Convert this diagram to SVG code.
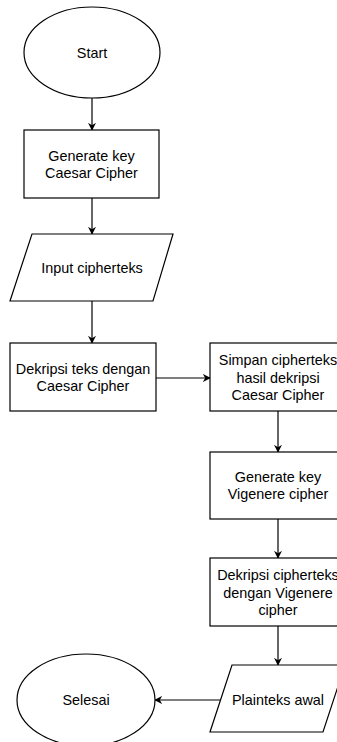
<svg xmlns="http://www.w3.org/2000/svg" width="337" height="742" viewBox="0 0 337 742">
<style>
.s{fill:#fff;stroke:#000;stroke-width:1.2}
.t{font-family:"Liberation Sans",Arial,sans-serif;font-size:14.4px;fill:#000;text-anchor:middle}
.c{fill:none;stroke:#000;stroke-width:1.2}
</style>
<defs>
<marker id="a" viewBox="0 0 10 10" refX="9" refY="5" markerWidth="8" markerHeight="8" markerUnits="userSpaceOnUse" orient="auto">
<path d="M0,0 L10,5 L0,10 L3,5 Z" fill="#000"/>
</marker>
</defs>
<rect width="337" height="742" fill="#fff"/>
<g id="connectors">
<path class="c" d="M92,98 V130" marker-end="url(#a)"/>
<path class="c" d="M92,198 V234" marker-end="url(#a)"/>
<path class="c" d="M92,301 V343" marker-end="url(#a)"/>
<path class="c" d="M156,378 H210" marker-end="url(#a)"/>
<path class="c" d="M278,411 V452" marker-end="url(#a)"/>
<path class="c" d="M278,519 V558" marker-end="url(#a)"/>
<path class="c" d="M278,626 V665" marker-end="url(#a)"/>
<path class="c" d="M221,700 H155" marker-end="url(#a)"/>
</g>
<g id="start">
<ellipse class="s" cx="92" cy="52.5" rx="68" ry="45.5"/>
<text class="t" x="92" y="57.5">Start</text>
</g>
<g id="genkey1">
<rect class="s" x="24" y="130" width="135" height="68"/>
<text class="t" x="91.5" y="160.5">Generate key</text>
<text class="t" x="91.5" y="178">Caesar Cipher</text>
</g>
<g id="input">
<polygon class="s" points="32,234 173,234 153,301 10,301"/>
<text class="t" x="92" y="272.5">Input cipherteks</text>
</g>
<g id="dekripsi1">
<rect class="s" x="10" y="343" width="146" height="68"/>
<text class="t" x="83" y="373.5">Dekripsi teks dengan</text>
<text class="t" x="83" y="391">Caesar Cipher</text>
</g>
<g id="simpan">
<rect class="s" x="210" y="343" width="136" height="68"/>
<text class="t" x="278" y="365">Simpan cipherteks</text>
<text class="t" x="278" y="382.5">hasil dekripsi</text>
<text class="t" x="278" y="400">Caesar Cipher</text>
</g>
<g id="genkey2">
<rect class="s" x="210" y="452" width="136" height="67"/>
<text class="t" x="278" y="481.5">Generate key</text>
<text class="t" x="278" y="499">Vigenere cipher</text>
</g>
<g id="dekripsi2">
<rect class="s" x="210" y="558" width="136" height="68"/>
<text class="t" x="278" y="580">Dekripsi cipherteks</text>
<text class="t" x="278" y="597.5">dengan Vigenere</text>
<text class="t" x="278" y="615">cipher</text>
</g>
<g id="plainteks">
<polygon class="s" points="232,665 345,665 323,732 210,732"/>
<text class="t" x="278" y="705">Plainteks awal</text>
</g>
<g id="selesai">
<ellipse class="s" cx="86" cy="700" rx="69" ry="46"/>
<text class="t" x="86" y="705">Selesai</text>
</g>
</svg>
